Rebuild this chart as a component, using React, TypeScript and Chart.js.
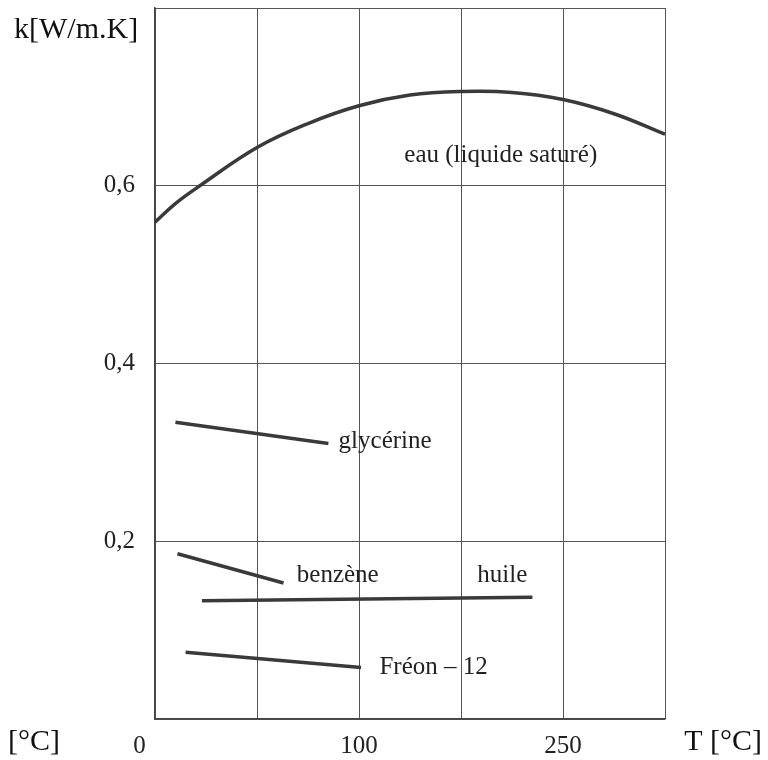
import React, { useEffect, useRef } from "react";
import { Chart, registerables } from "chart.js";

Chart.register(...registerables);

// Temperature axis (T, grid every 50) and conductivity k [W/m.K]
const xTickLabels: Record<number, string> = { 0: "0     ", 100: "100", 200: "250" };
const yTickLabels: Record<string, string> = { "0.2": "0,2", "0.4": "0,4", "0.6": "0,6" };

const eauT = [0, 10, 22, 50, 75, 100, 125, 150, 175, 200, 225, 250];
const eauK = [0.559, 0.58, 0.6, 0.643, 0.67, 0.69, 0.702, 0.706, 0.705, 0.697, 0.681, 0.658];

const glycerineT = [10, 85];
const glycerineK = [0.334, 0.31];

const benzeneT = [11, 63];
const benzeneK = [0.186, 0.153];

const huileT = [23, 185];
const huileK = [0.133, 0.137];

const freonT = [15, 101];
const freonK = [0.075, 0.058];

// annotation texts and their anchor (data coords)
const labelTexts = ["eau (liquide saturé)", "glycérine", "benzène", "huile", "Fréon – 12"];
const labelT = [169.5, 90, 69.5, 158, 110];
const labelK = [0.634, 0.312, 0.1616, 0.1616, 0.0576];
const labelAlign: CanvasTextAlign[] = ["center", "left", "left", "left", "left"];

const pts = (xs: number[], ys: number[]) => xs.map((x, i) => ({ x, y: ys[i] }));

const FONT = "'Liberation Serif', 'Times New Roman', serif";
const LINE = "#3a3a3a";

export default function App() {
  const ref = useRef<HTMLCanvasElement>(null);
  useEffect(() => {
    document.body.style.margin = "0";
    const ctx = ref.current!;
    const textPlugin = {
      id: "texts",
      afterDraw(chart: any) {
        const c = chart.ctx;
        const xs = chart.scales.x;
        const ys = chart.scales.y;
        c.save();
        c.fillStyle = "#222";
        c.textBaseline = "middle";
        c.font = `25px ${FONT}`;
        labelTexts.forEach((t, i) => {
          c.textAlign = labelAlign[i];
          c.fillText(t, xs.getPixelForValue(labelT[i]), ys.getPixelForValue(labelK[i]));
        });
        c.fillStyle = "#111";
        c.font = `30px ${FONT}`;
        c.textAlign = "left";
        c.fillText("k[W/m.K]", 14, 30);
        c.fillText("[°C]", 8, 742);
        c.textAlign = "right";
        c.fillText("T [°C]", 762, 742);
        c.restore();
      },
    };
    const mk = (xs: number[], ys: number[], tension = 0) => ({
      data: pts(xs, ys),
      showLine: true,
      borderColor: LINE,
      borderWidth: 3.5,
      pointRadius: 0,
      tension,
      fill: false,
    });
    const chart = new Chart(ctx, {
      type: "scatter",
      data: {
        datasets: [
          mk(eauT, eauK, 0.4),
          mk(glycerineT, glycerineK),
          mk(benzeneT, benzeneK),
          mk(huileT, huileK),
          mk(freonT, freonK),
        ],
      },
      options: {
        animation: false,
        responsive: false,
        layout: { padding: { left: 0, right: 103, top: 8, bottom: 0 } },
        plugins: { legend: { display: false }, tooltip: { enabled: false } },
        scales: {
          x: {
            type: "linear",
            min: 0,
            max: 250,
            afterFit: (s: any) => {
              s.height = 41;
              s.paddingLeft = 0;
              s.paddingRight = 0;
            },
            grid: { color: "#555", lineWidth: 1, drawTicks: false },
            border: { color: "#444", width: 1.5 },
            ticks: {
              stepSize: 50,
              padding: 12,
              maxRotation: 0,
              autoSkip: false,
              color: "#222",
              font: { family: FONT, size: 25 },
              callback: (v: any) => xTickLabels[Math.round(Number(v))] ?? "",
            },
          },
          y: {
            type: "linear",
            min: 0,
            max: 0.8,
            afterFit: (s: any) => {
              s.width = 155;
              s.paddingTop = 0;
              s.paddingBottom = 0;
            },
            grid: { color: "#555", lineWidth: 1, drawTicks: false },
            border: { color: "#444", width: 1.5 },
            ticks: {
              stepSize: 0.2,
              padding: 20,
              color: "#222",
              font: { family: FONT, size: 25 },
              callback: (v: any) => yTickLabels[(Math.round(Number(v) * 10) / 10).toString()] ?? "",
            },
          },
        },
      },
      plugins: [textPlugin],
    } as any);
    return () => chart.destroy();
  }, []);
  return <canvas ref={ref} width={768} height={760} style={{ display: "block" }} />;
}
